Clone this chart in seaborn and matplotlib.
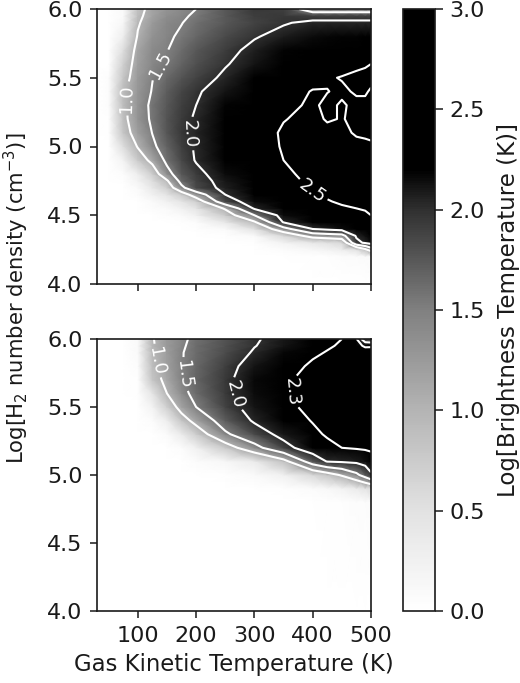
import numpy as np
import seaborn as sns
import matplotlib
matplotlib.use('Agg')
import matplotlib.pyplot as plt
from matplotlib.colors import LinearSegmentedColormap

# Grid of the model
temps = [30, 50, 75, 100, 125, 150, 175, 200, 250, 300, 350, 400, 425, 450, 475, 490, 500]

dens_top = [4.0, 4.2, 4.25, 4.3, 4.35, 4.4, 4.45, 4.5, 4.55, 4.6, 4.65, 4.7, 4.75, 4.8,
            4.9, 5.0, 5.1, 5.2, 5.3, 5.4, 5.5, 5.6, 5.7, 5.8, 5.9, 5.95, 6.0]
tb_top = [
    [0, 0, 0, 0, 0, 0, 0, 0, 0, 0, 0, 0, 0, 0, 0, 0, 0],
    [0, 0, 0, 0, 0, 0, 0, 0, 0, 0, 0, .02, .03, .05, .08, .09, .1],
    [0, 0, 0, 0, 0, 0, 0, 0, 0, 0, .05, .15, .2, .3, .5, .9, 1.25],
    [0, 0, 0, 0, 0, 0, 0, 0, 0, .03, .2, .4, .5, .6, 1.9, 2.05, 2.15],
    [0, 0, 0, 0, 0, 0, 0, 0, .03, .1, .6, 1.2, 1.27, 1.33, 2.05, 2.13, 2.2],
    [0, 0, 0, 0, 0, 0, 0, .02, .1, .5, 1.33, 2.0, 2.08, 2.15, 2.25, 2.28, 2.3],
    [0, 0, 0, 0, 0, 0, .02, .05, .4, .95, 2.03, 2.28, 2.3, 2.35, 2.4, 2.41, 2.42],
    [0, 0, 0, 0, 0, .05, .1, .25, .75, 1.5, 2.15, 2.35, 2.38, 2.42, 2.46, 2.48, 2.5],
    [0, 0, 0, 0, .05, .1, .25, .45, 1.05, 2.05, 2.3, 2.42, 2.45, 2.48, 2.5, 2.51, 2.52],
    [0, 0, 0, 0, .1, .25, .45, .7, 1.85, 2.15, 2.33, 2.45, 2.49, 2.52, 2.54, 2.55, 2.55],
    [0, 0, 0, .05, .25, .45, .75, 1.25, 2.0, 2.2, 2.36, 2.48, 2.52, 2.56, 2.58, 2.59, 2.6],
    [0, 0, 0, .1, .4, .7, 1.4, 1.85, 2.07, 2.25, 2.4, 2.52, 2.56, 2.6, 2.62, 2.62, 2.62],
    [0, 0, .03, .2, .55, .95, 1.65, 1.88, 2.1, 2.27, 2.42, 2.55, 2.6, 2.62, 2.63, 2.63, 2.63],
    [0, 0, .05, .3, .72, 1.35, 1.75, 1.92, 2.15, 2.3, 2.44, 2.59, 2.62, 2.65, 2.65, 2.65, 2.65],
    [0, 0, .2, .75, 1.12, 1.6, 1.85, 2.02, 2.22, 2.37, 2.5, 2.6, 2.62, 2.62, 2.6, 2.6, 2.6],
    [0, 0, .55, 1.03, 1.43, 1.68, 1.9, 2.03, 2.23, 2.38, 2.52, 2.6, 2.6, 2.58, 2.55, 2.54, 2.53],
    [0, .02, .8, 1.2, 1.51, 1.76, 1.95, 2.05, 2.23, 2.38, 2.53, 2.58, 2.56, 2.54, 2.48, 2.47, 2.46],
    [0, .03, .87, 1.3, 1.56, 1.78, 1.93, 2.03, 2.2, 2.35, 2.49, 2.56, 2.48, 2.51, 2.46, 2.45, 2.45],
    [0, .05, .9, 1.3, 1.58, 1.75, 1.9, 2.0, 2.18, 2.32, 2.45, 2.53, 2.46, 2.52, 2.46, 2.46, 2.46],
    [0, .05, .92, 1.28, 1.52, 1.72, 1.87, 1.97, 2.12, 2.28, 2.42, 2.51, 2.505, 2.47, 2.52, 2.52, 2.48],
    [0, .05, .8, 1.25, 1.49, 1.65, 1.78, 1.88, 2.05, 2.2, 2.33, 2.44, 2.48, 2.51, 2.54, 2.55, 2.55],
    [0, 0, .7, 1.2, 1.42, 1.55, 1.68, 1.8, 1.98, 2.12, 2.25, 2.35, 2.39, 2.42, 2.46, 2.48, 2.5],
    [0, 0, .55, 1.15, 1.4, 1.49, 1.62, 1.75, 1.92, 2.07, 2.18, 2.27, 2.3, 2.33, 2.35, 2.36, 2.37],
    [0, 0, .3, 1.04, 1.33, 1.45, 1.55, 1.66, 1.83, 1.98, 2.08, 2.15, 2.17, 2.18, 2.19, 2.2, 2.2],
    [0, 0, .15, .95, 1.25, 1.42, 1.49, 1.6, 1.75, 1.88, 1.98, 2.05, 2.05, 2.05, 2.05, 2.05, 2.05],
    [0, 0, .1, .9, 1.18, 1.36, 1.45, 1.55, 1.75, 1.92, 1.95, 1.9, 1.9, 1.9, 1.9, 1.9, 1.9],
    [0, 0, .1, .85, 1.15, 1.3, 1.4, 1.5, 1.75, 1.95, 1.9, 1.15, 1.15, 1.15, 1.15, 1.15, 1.15],
]

dens_bot = [4.0, 4.8, 4.9, 5.0, 5.1, 5.2, 5.3, 5.4, 5.5, 5.6, 5.7, 5.8, 5.9, 5.95, 6.0]
tb_bot = [
    [0, 0, 0, 0, 0, 0, 0, 0, 0, 0, 0, 0, 0, 0, 0, 0, 0],
    [0, 0, 0, 0, 0, 0, 0, 0, 0, 0, 0, 0, .02, .03, .05, .07, .08],
    [0, 0, 0, 0, 0, 0, 0, 0, 0, 0, .03, .08, .12, .2, .35, .47, .55],
    [0, 0, 0, 0, 0, 0, 0, 0, .03, .1, .25, .6, .8, 1.05, 1.4, 1.7, 1.95],
    [0, 0, 0, 0, 0, 0, 0, .05, .15, .35, .85, 1.75, 2.02, 2.05, 2.08, 2.14, 2.2],
    [0, 0, 0, 0, 0, 0, .05, .25, .75, 1.35, 1.88, 2.2, 2.25, 2.3, 2.32, 2.33, 2.34],
    [0, 0, 0, 0, 0, .08, .35, .72, 1.43, 1.83, 2.1, 2.26, 2.32, 2.34, 2.36, 2.365, 2.37],
    [0, 0, 0, 0, .05, .3, .8, 1.15, 1.72, 2.04, 2.2, 2.31, 2.34, 2.37, 2.39, 2.395, 2.4],
    [0, 0, 0, .01, .2, .7, 1.17, 1.5, 1.88, 2.12, 2.25, 2.35, 2.39, 2.42, 2.44, 2.445, 2.45],
    [0, 0, 0, .02, .45, 1.0, 1.38, 1.62, 1.93, 2.15, 2.27, 2.38, 2.42, 2.45, 2.47, 2.475, 2.48],
    [0, 0, 0, .03, .8, 1.12, 1.47, 1.67, 1.94, 2.16, 2.26, 2.38, 2.42, 2.45, 2.46, 2.465, 2.47],
    [0, 0, 0, .05, .9, 1.2, 1.48, 1.65, 1.9, 2.12, 2.22, 2.33, 2.37, 2.39, 2.4, 2.41, 2.42],
    [0, 0, 0, .1, .93, 1.22, 1.48, 1.62, 1.82, 2.03, 2.17, 2.27, 2.31, 2.34, 2.36, 2.37, 2.38],
    [0, 0, 0, .1, .95, 1.25, 1.45, 1.62, 1.8, 1.99, 2.12, 2.24, 2.28, 2.32, 2.34, 2.28, 2.28],
    [0, 0, 0, .1, .97, 1.25, 1.42, 1.6, 1.78, 1.97, 2.1, 2.22, 2.26, 2.3, 2.32, 1.75, 1.7],
]

levels_top = [1.0, 1.5, 2.0, 2.5]
levels_bot = [1.0, 1.5, 2.0, 2.3]

sns.set_style('ticks')
plt.rcParams['font.family'] = ['DejaVu Sans']
plt.rcParams['axes.linewidth'] = 1.2
plt.rcParams['xtick.major.width'] = 1.1
plt.rcParams['ytick.major.width'] = 1.1
plt.rcParams['xtick.major.size'] = 5
plt.rcParams['ytick.major.size'] = 5
plt.rcParams['xtick.color'] = '#1a1a1a'
plt.rcParams['ytick.color'] = '#1a1a1a'
plt.rcParams['axes.edgecolor'] = '#1a1a1a'
plt.rcParams['text.color'] = '#1a1a1a'
plt.rcParams['axes.labelcolor'] = '#1a1a1a'

cmap = LinearSegmentedColormap.from_list('tb', [
    (0.0, '#ffffff'), (0.5 / 3, '#e2e2e2'), (1.0 / 3, '#b4b4b4'), (1.5 / 3, '#808080'),
    (2.0 / 3, '#303030'), (2.2 / 3, '#000000'), (1.0, '#000000')], N=256)

W, H = 520, 683
fig = plt.figure(figsize=(W / 100, H / 100), dpi=100)
ax1 = fig.add_axes([97 / W, 1 - 284 / H, 274 / W, 275 / H])
ax2 = fig.add_axes([97 / W, 1 - 611 / H, 274 / W, 272 / H])
cax = fig.add_axes([403 / W, 1 - 611 / H, 32 / W, 602 / H])


def draw(ax, dens, values, levels, spots):
    z = np.array(values)
    mesh = ax.pcolormesh(temps, dens, z, shading='gouraud', cmap=cmap, vmin=0, vmax=3)
    cs = ax.contour(temps, dens, z, levels=levels, colors='white', linewidths=1.5)
    ax.clabel(cs, levels=levels, fmt='%.1f', fontsize=13, colors='white', manual=spots,
              inline=True, inline_spacing=3)
    ax.set_xlim(30, 500)
    ax.set_ylim(4, 6)
    ax.set_xticks([100, 200, 300, 400, 500])
    ax.set_yticks([4.0, 4.5, 5.0, 5.5, 6.0])
    ax.tick_params(axis='x', labelsize=16, pad=6)
    ax.tick_params(axis='y', labelsize=16, pad=5.5)
    return mesh


mesh = draw(ax1, dens_top, tb_top, levels_top,
            [(80, 5.35), (128, 5.62), (193, 5.1), (400, 4.68)])
draw(ax2, dens_bot, tb_bot, levels_bot,
     [(133, 5.84), (179, 5.74), (270, 5.6), (370, 5.61)])

ax1.tick_params(labelbottom=False)
ax2.set_xlabel('Gas Kinetic Temperature (K)', fontsize=16.4, labelpad=5)
fig.text(16 / W, 1 - 298 / H, 'Log[H$_2$ number density (cm$^{-3}$)]', rotation=90,
         fontsize=15.2, ha='center', va='center')

cb = fig.colorbar(mesh, cax=cax)
cb.set_ticks([0, 0.5, 1.0, 1.5, 2.0, 2.5, 3.0])
cb.ax.tick_params(labelsize=16, length=5.5, pad=5)
cb.set_label('Log[Brightness Temperature (K)]', fontsize=16.5)
cb.ax.yaxis.set_label_coords(2.94, 0.5)

fig.savefig('out.png', dpi=100)
